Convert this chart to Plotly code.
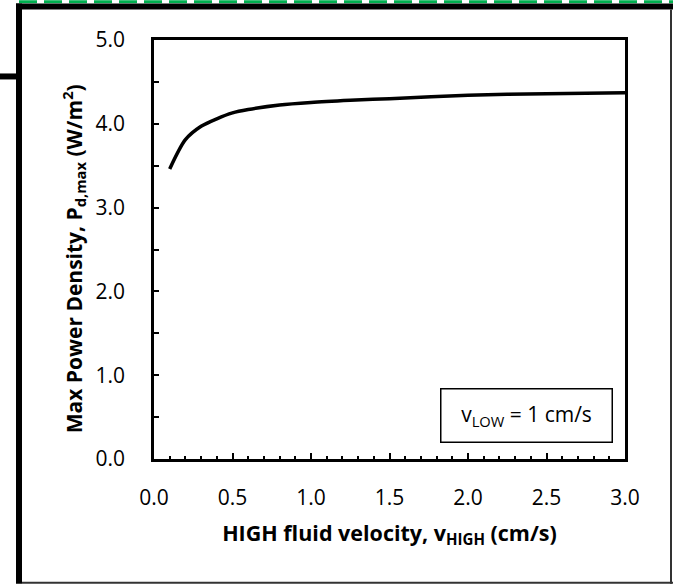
import plotly.graph_objects as go

# Data
velocity_high = [0.1, 0.2, 0.3, 0.4, 0.5, 0.6, 0.8, 1.0, 1.25, 1.5, 2.0, 2.5, 3.0]
power_density = [3.46, 3.81, 3.97, 4.06, 4.13, 4.17, 4.225, 4.255, 4.28, 4.30, 4.34, 4.36, 4.37]
x_ticks = [0.0, 0.5, 1.0, 1.5, 2.0, 2.5, 3.0]
y_ticks = [0.0, 1.0, 2.0, 3.0, 4.0, 5.0]
legend_text = "v<sub>LOW</sub> = 1 cm/s"
x_title = "<b>HIGH fluid velocity, v<sub>HIGH</sub> (cm/s)</b>"
y_title = "<b>Max Power Density, P<sub>d,max</sub> (W/m<sup>2</sup>)</b>"

W, H = 673, 584
L, R, T, B = 154, 625, 39.5, 459
FONT = "Open Sans"

def px(x):
    return (x - L) / (R - L)

def py(y):
    return (B - y) / (B - T)

fig = go.Figure()
fig.add_trace(go.Scatter(
    x=velocity_high, y=power_density, mode="lines",
    line=dict(color="black", width=3.5, shape="spline", smoothing=0.8),
    showlegend=False, hoverinfo="skip"))

axis_common = dict(
    showgrid=False, zeroline=False, showline=True, linecolor="black",
    linewidth=2.5, mirror=True, ticks="inside", tickcolor="black",
    tickfont=dict(family=FONT, size=21, color="black"),
)

fig.update_xaxes(
    range=[0, 3], tickvals=x_ticks, ticktext=[f"{v:.1f}" for v in x_ticks],
    ticklen=6, tickwidth=2, ticklabelstandoff=18,
    minor=dict(dtick=0.1, tick0=0, ticks="inside", ticklen=3, tickwidth=1.5, tickcolor="black"),
    title=dict(text=x_title, font=dict(family=FONT, size=21.5, color="black"), standoff=16),
    **axis_common)
fig.update_yaxes(
    range=[0, 5], tickvals=y_ticks, ticktext=[f"{v:.1f}" for v in y_ticks],
    ticklen=5, tickwidth=2, ticklabelstandoff=22,
    minor=dict(dtick=0.5, tick0=0, ticks="inside", ticklen=5, tickwidth=2, tickcolor="black"),
    **axis_common)

# y-axis title placed as rotated annotation
fig.add_annotation(
    x=px(73), y=py(259), xref="paper", yref="paper", text=y_title,
    textangle=-90, showarrow=False, xanchor="center", yanchor="middle",
    font=dict(family=FONT, size=21, color="black"))

# legend-like box
fig.add_annotation(
    x=px(526), y=py(415.5), xref="paper", yref="paper", text=legend_text,
    showarrow=False, font=dict(family=FONT, size=21, color="black"),
    bordercolor="black", borderwidth=1.5, bgcolor="white",
    width=168, height=50, xanchor="center", yanchor="middle")

# outer slide frame decorations
shapes = [
    dict(type="line", x0=px(19), x1=px(673), y0=py(1.2), y1=py(1.2),
         line=dict(color="#00B050", width=3, dash="18px,7px")),
    dict(type="line", x0=px(16), x1=px(673), y0=py(6), y1=py(6),
         line=dict(color="black", width=6)),
    dict(type="line", x0=px(19), x1=px(19), y0=py(3), y1=py(584),
         line=dict(color="black", width=6)),
    dict(type="line", x0=px(671), x1=px(671), y0=py(9), y1=py(584),
         line=dict(color="#333333", width=2)),
    dict(type="line", x0=px(22), x1=px(673), y0=py(583), y1=py(583),
         line=dict(color="#333333", width=2)),
    dict(type="line", x0=px(0), x1=px(16), y0=py(76), y1=py(76),
         line=dict(color="black", width=6)),
]
for s in shapes:
    s.update(xref="paper", yref="paper", layer="above")
    fig.add_shape(**s)

fig.update_layout(
    width=W, height=H,
    margin=dict(l=L, r=W - R, t=T, b=H - B, autoexpand=False),
    paper_bgcolor="white", plot_bgcolor="white",
    font=dict(family=FONT, color="black"),
)

fig.write_html("out.html")
